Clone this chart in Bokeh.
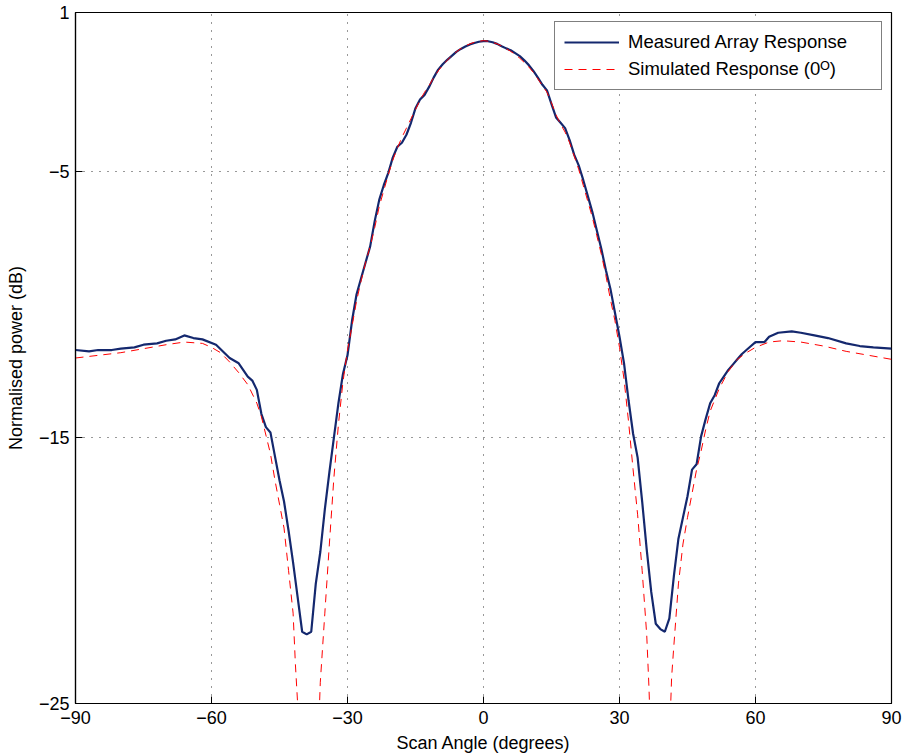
from bokeh.plotting import figure
from bokeh.models import FixedTicker, Range1d
from bokeh.embed import file_html
from bokeh.resources import INLINE

# ---------------- data ----------------
meas_angle = [-90, -87, -85, -82, -80, -77, -75, -72, -70, -68, -66, -64, -62, -59, -56, -54, -52, -51,
              -50, -49, -48, -47, -46, -45, -44, -43, -42, -41, -40, -39, -38, -37, -36, -35, -34, -33,
              -32, -31, -30, -29, -28, -27, -26, -25, -24, -23, -22, -21, -20, -19, -18, -17, -16, -15,
              -14, -13, -12, -11, -10, -9, -8, -7, -6, -5, -4, -3, -2, -1, 0, 1, 2, 3, 4, 5, 6, 7, 8, 9,
              10, 11, 12, 13, 14, 15, 16, 17, 18, 19, 20, 21, 22, 23, 24, 25, 26, 27, 28, 29, 30, 31, 32,
              33, 34, 35, 36, 37, 38, 39, 40, 41, 42, 43, 44, 45, 46, 47, 48, 49, 50, 51, 52, 53, 54, 55,
              56, 57, 58, 59, 60, 62, 63, 65, 68, 70, 73, 76, 80, 83, 86, 90]
meas_db = [-11.7, -11.75, -11.7, -11.7, -11.65, -11.6, -11.5, -11.45, -11.35, -11.3, -11.15, -11.25,
           -11.3, -11.5, -12.0, -12.2, -12.7, -12.85, -13.2, -14.1, -14.6, -14.8, -15.7, -16.6, -17.4,
           -18.5, -19.7, -21.0, -22.3, -22.4, -22.3, -20.5, -19.3, -17.7, -16.3, -15.0, -13.7, -12.6,
           -11.9, -10.6, -9.6, -9.0, -8.4, -7.8, -6.85, -6.05, -5.5, -5.03, -4.45, -4.05, -3.9, -3.6,
           -3.15, -2.6, -2.27, -2.1, -1.8, -1.45, -1.15, -0.95, -0.78, -0.63, -0.48, -0.37, -0.28, -0.2,
           -0.15, -0.1, -0.08, -0.08, -0.12, -0.18, -0.27, -0.35, -0.42, -0.53, -0.64, -0.8, -0.98, -1.2,
           -1.45, -1.72, -1.93, -2.45, -2.95, -3.15, -3.35, -3.8, -4.35, -4.75, -5.3, -5.9, -6.5, -7.2,
           -7.9, -8.7, -9.4, -10.3, -11.2, -12.2, -13.6, -14.85, -15.75, -17.4, -19.2, -20.8, -22.0,
           -22.2, -22.3, -21.8, -20.2, -18.8, -18.0, -17.2, -16.2, -16.0, -14.95, -14.3, -13.7, -13.4,
           -12.95, -12.7, -12.45, -12.25, -12.05, -11.85, -11.7, -11.55, -11.4, -11.4, -11.2, -11.05,
           -11.0, -11.05, -11.15, -11.25, -11.45, -11.55, -11.6, -11.65]

sim_angle = [-90, -85, -80, -75, -70, -66, -62, -60, -58, -56, -54, -52, -50, -49, -48, -47, -46, -45,
             -44, -43, -42, -41.5, -41, -40, -39, -38.5, -38, -37, -36, -35, -34, -33, -32, -31, -30,
             -29, -28, -27, -26, -25, -24, -23, -22, -21, -20, -19, -18, -17, -16, -15, -14, -13, -12,
             -11, -10, -9, -8, -7, -6, -5, -4, -3, -2, -1, 0, 1, 2, 3, 4, 5, 6, 7, 8, 9, 10, 11, 12, 13,
             14, 15, 16, 17, 18, 19, 20, 21, 22, 23, 24, 25, 26, 27, 28, 29, 30, 31, 32, 33, 34, 35, 35.5,
             36, 36.5, 37, 38, 39, 40, 41, 41.5, 42, 43, 44, 45, 46, 47, 48, 49, 50, 52, 54, 56, 58, 60,
             63, 66, 70, 75, 80, 85, 90]
sim_db = [-12.0, -11.9, -11.8, -11.65, -11.5, -11.4, -11.45, -11.6, -11.8, -12.15, -12.55, -13.0, -13.7,
          -14.2, -14.9, -15.6, -16.6, -17.5, -18.4, -20.0, -21.6, -23.5, -25.0, -29.0, -38.0, -45.0,
          -38.0, -29.0, -24.2, -21.6, -19.0, -16.5, -14.5, -12.9, -11.7, -10.8, -9.85, -9.1, -8.4, -7.8,
          -7.1, -6.3, -5.7, -5.1, -4.55, -4.1, -3.7, -3.35, -3.0, -2.65, -2.3, -2.0, -1.75, -1.45, -1.2,
          -0.98, -0.8, -0.62, -0.48, -0.36, -0.26, -0.18, -0.12, -0.08, -0.06, -0.08, -0.12, -0.18,
          -0.26, -0.36, -0.46, -0.58, -0.72, -0.88, -1.05, -1.25, -1.5, -1.75, -2.0, -2.4, -2.85, -3.2,
          -3.5, -3.9, -4.4, -4.9, -5.5, -6.1, -6.7, -7.4, -8.1, -8.9, -9.8, -10.6, -11.6, -12.8, -14.4,
          -16.2, -17.9, -20.0, -21.2, -22.4, -24.4, -27.0, -35.0, -45.0, -35.0, -26.5, -24.0, -22.8,
          -20.5, -19.0, -18.0, -17.1, -16.2, -15.5, -14.7, -14.0, -13.15, -12.5, -12.05, -11.8, -11.6,
          -11.4, -11.35, -11.4, -11.55, -11.75, -11.9, -12.05]

x_ticks = [-90, -60, -30, 0, 30, 60, 90]
x_tick_labels = ["\u221290", "\u221260", "\u221230", "0", "30", "60", "90"]
y_ticks = [-25, -15, -5, 1]
y_tick_labels = ["\u221225", "\u221215", "\u22125", "1"]

series_names = ["Measured Array Response", "Simulated Response (0\u1D3C)"]

# ---------------- figure ----------------
FONT = "Liberation Sans"

p = figure(width=904, height=755, output_backend="svg", toolbar_location=None,
           x_range=Range1d(-90, 90), y_range=Range1d(-25, 1),
           min_border_left=75, min_border_right=13, min_border_top=12, min_border_bottom=52)

p.background_fill_color = "white"
p.border_fill_color = "white"
p.outline_line_color = "black"
p.outline_line_width = 1.2
p.outline_line_alpha = 1

p.line(meas_angle, meas_db, line_color="#14286e", line_width=2.2, legend_label=series_names[0])
p.line(sim_angle, sim_db, line_color="#ff0000", line_width=1, line_dash="8 6",
       legend_label=series_names[1])

p.xaxis.ticker = FixedTicker(ticks=x_ticks)
p.yaxis.ticker = FixedTicker(ticks=y_ticks)
p.xaxis.major_label_overrides = {t: l for t, l in zip(x_ticks, x_tick_labels)}
p.yaxis.major_label_overrides = {t: l for t, l in zip(y_ticks, y_tick_labels)}

for ax in (p.xaxis, p.yaxis):
    ax.axis_line_color = "black"
    ax.axis_line_width = 1.2
    ax.major_tick_in = 7
    ax.major_tick_out = 0
    ax.minor_tick_line_color = None
    ax.major_tick_line_color = "black"
    ax.major_label_text_font = FONT
    ax.major_label_text_font_size = "18px"
    ax.major_label_text_color = "black"
    ax.axis_label_text_font = FONT
    ax.axis_label_text_font_size = "18px"
    ax.axis_label_text_font_style = "normal"
    ax.axis_label_text_color = "black"

p.xaxis.axis_label = "Scan Angle (degrees)"
p.yaxis.axis_label = "Normalised power (dB)"
p.xaxis.major_label_standoff = 7
p.yaxis.major_label_standoff = 6
p.xaxis.axis_label_standoff = 6
p.yaxis.axis_label_standoff = 10

for g in (p.xgrid, p.ygrid):
    g.grid_line_color = "black"
    g.grid_line_dash = "1 7"
    g.grid_line_width = 1
    g.grid_line_alpha = 0.8

lg = p.legend[0]
lg.location = "top_right"
lg.margin = 9
lg.padding = 9
lg.spacing = 5
lg.glyph_width = 55
lg.glyph_height = 22
lg.label_standoff = 9
lg.label_width = 244
lg.label_text_font = FONT
lg.label_text_font_size = "18.5px"
lg.label_text_color = "black"
lg.border_line_color = "black"
lg.border_line_width = 1.2
lg.background_fill_color = "white"
lg.background_fill_alpha = 1

open("out.html", "w").write(file_html(p, INLINE))
